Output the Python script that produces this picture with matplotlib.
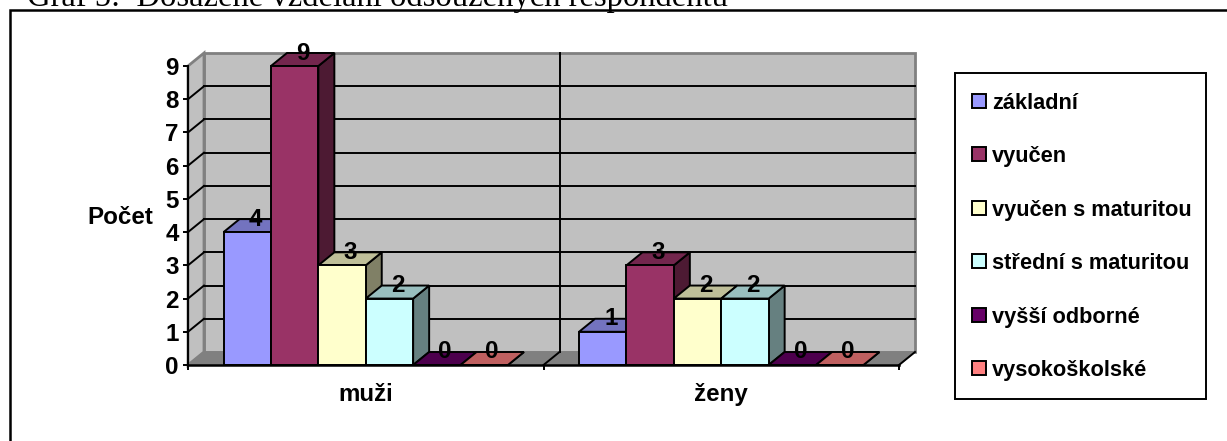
"""
Graf 5: sloupcový graf s efektem 3D, kreslený z polygonů v datových souřadnicích.
"""
import matplotlib
matplotlib.use('Agg')
import matplotlib.pyplot as plt
from matplotlib.patches import Polygon, Rectangle

W, H = 1227, 441

title = 'Graf 5:  Dosažené vzdělání odsouzených respondentů'
categories = ['muži', 'ženy']
series_names = ['základní', 'vyučen', 'vyučen s maturitou',
                'střední s maturitou', 'vyšší odborné', 'vysokoškolské']
muzi = [4, 9, 3, 2, 0, 0]
zeny = [1, 3, 2, 2, 0, 0]
colors = ['#9999FF', '#993366', '#FFFFCC', '#CCFFFF', '#660066', '#FF8080']
y_ticks = list(range(10))

plt.rcParams['font.family'] = ['Liberation Sans', 'DejaVu Sans']
plt.rcParams['font.weight'] = 'bold'
FS = 15.7      # legenda
FS_AX = 17.4   # osy a popisky hodnot
LW = 1.4


def shade(color, k):
    r, g, b = matplotlib.colors.to_rgb(color)
    return (r * k, g * k, b * k)


fig = plt.figure(figsize=(W / 100, H / 100), dpi=100)

# vnější rámeček grafu, vpravo a dole končí za okrajem obrázku
fig.add_artist(Rectangle((10 / W, -0.1), 1.1, 1.1 - 10 / H, transform=fig.transFigure,
                         fc='none', ec='black', lw=1.8))
fig.text(27 / W, 1 - 6 / H, title, family='Liberation Serif', weight='normal',
         fontsize=23.5, va='baseline', ha='left')

# plocha grafu: x = kategorie 0..2, y = hodnoty 0..9
ax = fig.add_axes([188 / W, 1 - 365 / H, (899 - 188) / W, (365 - 66) / H])
ax.set_xlim(0, 2)
ax.set_ylim(0, 9)
ax.patch.set_visible(False)
for s in ax.spines.values():
    s.set_visible(False)

# hloubka 3D efektu
dx = 16 / (711 / 2)
dy = 13 / (299 / 9)
wall = '#C0C0C0'
floor = '#808080'
ytop = y_ticks[-1]

# stěny a podlaha
ax.add_patch(Polygon([(dx, dy), (2 + dx, dy), (2 + dx, ytop + dy), (dx, ytop + dy)],
                     fc=wall, ec=floor, lw=2, clip_on=False, zorder=1))
ax.add_patch(Polygon([(0, 0), (dx, dy), (dx, ytop + dy), (0, ytop)],
                     fc=wall, ec=floor, lw=2, clip_on=False, zorder=1))
ax.add_patch(Polygon([(0, 0), (2, 0), (2 + dx, dy), (dx, dy)],
                     fc=floor, ec=floor, lw=1, clip_on=False, zorder=1))

# mřížka na stěnách
for v in y_ticks[1:-1]:
    ax.plot([dx, 2 + dx], [v + dy, v + dy], color='black', lw=LW, clip_on=False, zorder=2)
    ax.plot([0, dx], [v, v + dy], color='black', lw=LW, clip_on=False, zorder=2)
ax.plot([1 + dx, 1 + dx], [dy, ytop + dy], color='black', lw=LW, clip_on=False, zorder=2)
for x in [1, 2]:
    ax.plot([x, x + dx], [0, dy], color='black', lw=LW, clip_on=False, zorder=2)

# sloupce
bar_w = 1 / 7.5
z = 3
for i, vals in enumerate([muzi, zeny]):
    start = i + 0.75 * bar_w
    for j, v in enumerate(vals):
        x0 = start + j * bar_w
        x1 = x0 + bar_w
        c = colors[j]
        ax.add_patch(Polygon([(x1, 0), (x1 + dx, dy), (x1 + dx, v + dy), (x1, v)],
                             fc=shade(c, 0.5), ec='black', lw=LW, clip_on=False, zorder=z))
        ax.add_patch(Polygon([(x0, v), (x1, v), (x1 + dx, v + dy), (x0 + dx, v + dy)],
                             fc=shade(c, 0.75), ec='black', lw=LW, clip_on=False, zorder=z))
        ax.add_patch(Rectangle((x0, 0), bar_w, v, fc=c, ec='black', lw=LW,
                               clip_on=False, zorder=z))
        z += 1

# popisky hodnot až nad všemi sloupci
for i, vals in enumerate([muzi, zeny]):
    start = i + 0.75 * bar_w
    for j, v in enumerate(vals):
        ax.text(start + (j + 0.5) * bar_w + dx / 2, v + dy, str(v), ha='center', va='center',
                fontsize=FS_AX, color='black', clip_on=False, zorder=100)

# spodní osa
ax.plot([0, 2], [0, 0], color='black', lw=1.8, clip_on=False, zorder=50)
ax.plot([0, 0], [0, ytop], color='black', lw=LW, clip_on=False, zorder=50)

ax.set_yticks(y_ticks)
ax.tick_params(axis='y', length=3.6, width=LW, pad=3, labelsize=FS_AX)
ax.set_xticks([0, 1, 2])
ax.set_xticklabels(['', '', ''])
ax.set_xticks([0.5, 1.5], minor=True)
ax.set_xticklabels(categories, minor=True, fontsize=FS_AX)
ax.tick_params(axis='x', which='major', length=3.6, width=LW)
ax.tick_params(axis='x', which='minor', length=0, pad=13)

fig.text(120 / W, 1 - 217 / H, 'Počet', ha='center', va='center', fontsize=FS_AX)

# legenda
fig.add_artist(Rectangle((955 / W, 1 - 399 / H), 251 / W, 326 / H, transform=fig.transFigure,
                         fc='white', ec='black', lw=1.4))
for k, name in enumerate(series_names):
    yc = 101 + k * 53.4
    fig.add_artist(Rectangle((972 / W, 1 - (yc + 7) / H), 14 / W, 14 / H,
                             transform=fig.transFigure, fc=colors[k], ec='black', lw=1.4))
    fig.text(992 / W, 1 - yc / H, name, ha='left', va='center_baseline', fontsize=FS)

plt.savefig('out.png', dpi=100)
